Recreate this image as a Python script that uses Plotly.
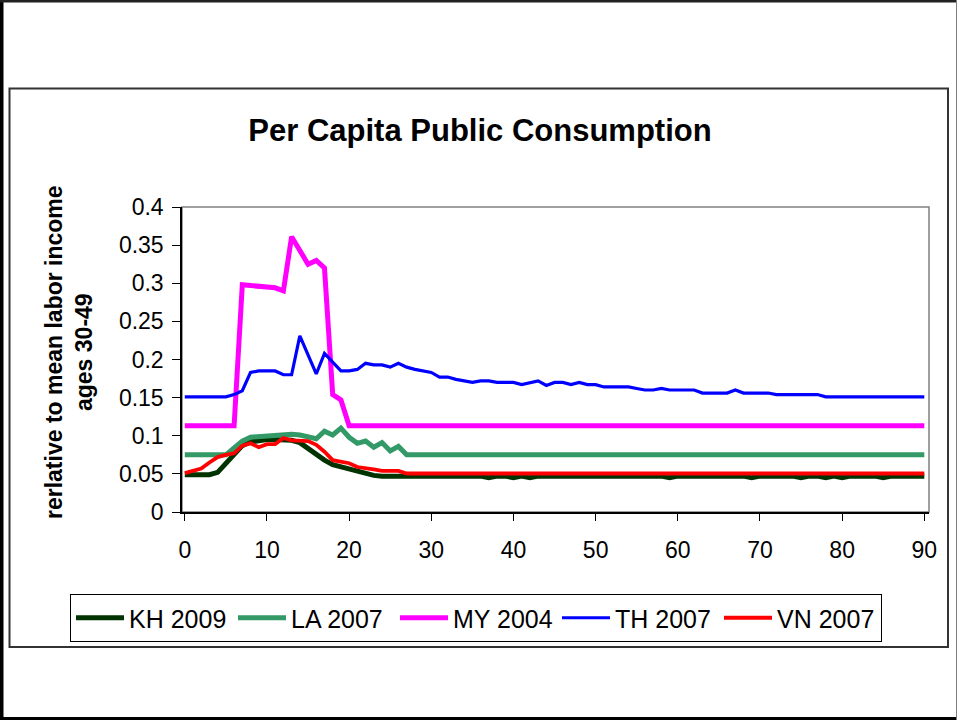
import plotly.graph_objects as go

ages = list(range(91))

kh_2009 = [
    0.049, 0.049, 0.049, 0.049, 0.052, 0.063, 0.076, 0.087, 0.092, 0.094,
    0.095, 0.095, 0.095, 0.094, 0.091, 0.083, 0.075, 0.068, 0.062, 0.059,
    0.056, 0.054, 0.051, 0.048, 0.047, 0.047, 0.047, 0.047, 0.047, 0.047,
    0.047, 0.047, 0.047, 0.047, 0.047, 0.047, 0.047, 0.045, 0.047, 0.047,
    0.045, 0.047, 0.045, 0.047, 0.047, 0.047, 0.047, 0.047, 0.047, 0.047,
    0.047, 0.047, 0.047, 0.047, 0.047, 0.047, 0.047, 0.047, 0.047, 0.045,
    0.047, 0.047, 0.047, 0.047, 0.047, 0.047, 0.047, 0.047, 0.047, 0.045,
    0.047, 0.047, 0.047, 0.047, 0.047, 0.045, 0.047, 0.047, 0.045, 0.047,
    0.045, 0.047, 0.047, 0.047, 0.047, 0.045, 0.047, 0.047, 0.047, 0.047,
    0.047,
]

la_2007 = [
    0.075, 0.075, 0.075, 0.075, 0.075, 0.075, 0.084, 0.093, 0.098, 0.099,
    0.100, 0.101, 0.102, 0.102, 0.101, 0.098, 0.096, 0.106, 0.101, 0.110,
    0.098, 0.090, 0.093, 0.085, 0.091, 0.080, 0.086, 0.075, 0.075, 0.075,
    0.075, 0.075, 0.075, 0.075, 0.075, 0.075, 0.075, 0.075, 0.075, 0.075,
    0.075, 0.075, 0.075, 0.075, 0.075, 0.075, 0.075, 0.075, 0.075, 0.075,
    0.075, 0.075, 0.075, 0.075, 0.075, 0.075, 0.075, 0.075, 0.075, 0.075,
    0.075, 0.075, 0.075, 0.075, 0.075, 0.075, 0.075, 0.075, 0.075, 0.075,
    0.075, 0.075, 0.075, 0.075, 0.075, 0.075, 0.075, 0.075, 0.075, 0.075,
    0.075, 0.075, 0.075, 0.075, 0.075, 0.075, 0.075, 0.075, 0.075, 0.075,
    0.075,
]

my_2004 = [
    0.113, 0.113, 0.113, 0.113, 0.113, 0.113, 0.113, 0.298, 0.297, 0.295,
    0.295, 0.294, 0.290, 0.361, 0.343, 0.325, 0.330, 0.320, 0.154, 0.147,
    0.113, 0.113, 0.113, 0.113, 0.113, 0.113, 0.113, 0.113, 0.113, 0.113,
    0.113, 0.113, 0.113, 0.113, 0.113, 0.113, 0.113, 0.113, 0.113, 0.113,
    0.113, 0.113, 0.113, 0.113, 0.113, 0.113, 0.113, 0.113, 0.113, 0.113,
    0.113, 0.113, 0.113, 0.113, 0.113, 0.113, 0.113, 0.113, 0.113, 0.113,
    0.113, 0.113, 0.113, 0.113, 0.113, 0.113, 0.113, 0.113, 0.113, 0.113,
    0.113, 0.113, 0.113, 0.113, 0.113, 0.113, 0.113, 0.113, 0.113, 0.113,
    0.113, 0.113, 0.113, 0.113, 0.113, 0.113, 0.113, 0.113, 0.113, 0.113,
    0.113,
]

th_2007 = [
    0.151, 0.151, 0.151, 0.151, 0.151, 0.151, 0.154, 0.159, 0.183, 0.185,
    0.185, 0.185, 0.180, 0.180, 0.231, 0.206, 0.181, 0.208, 0.196, 0.185,
    0.185, 0.187, 0.195, 0.193, 0.193, 0.190, 0.195, 0.190, 0.187, 0.185,
    0.183, 0.177, 0.177, 0.174, 0.172, 0.170, 0.172, 0.172, 0.170, 0.170,
    0.170, 0.167, 0.170, 0.172, 0.166, 0.170, 0.170, 0.167, 0.170, 0.167,
    0.167, 0.164, 0.164, 0.164, 0.164, 0.162, 0.160, 0.160, 0.162, 0.160,
    0.160, 0.160, 0.160, 0.156, 0.156, 0.156, 0.156, 0.160, 0.156, 0.156,
    0.156, 0.156, 0.154, 0.154, 0.154, 0.154, 0.154, 0.154, 0.151, 0.151,
    0.151, 0.151, 0.151, 0.151, 0.151, 0.151, 0.151, 0.151, 0.151, 0.151,
    0.151,
]

vn_2007 = [
    0.051, 0.054, 0.057, 0.065, 0.072, 0.075, 0.077, 0.087, 0.090, 0.085,
    0.089, 0.089, 0.097, 0.094, 0.093, 0.093, 0.088, 0.079, 0.068, 0.066,
    0.064, 0.059, 0.058, 0.056, 0.054, 0.054, 0.054, 0.0505, 0.0505, 0.0505,
    0.0505, 0.0505, 0.0505, 0.0505, 0.0505, 0.0505, 0.0505, 0.0505, 0.0505, 0.0505,
    0.0505, 0.0505, 0.0505, 0.0505, 0.0505, 0.0505, 0.0505, 0.0505, 0.0505, 0.0505,
    0.0505, 0.0505, 0.0505, 0.0505, 0.0505, 0.0505, 0.0505, 0.0505, 0.0505, 0.0505,
    0.0505, 0.0505, 0.0505, 0.0505, 0.0505, 0.0505, 0.0505, 0.0505, 0.0505, 0.0505,
    0.0505, 0.0505, 0.0505, 0.0505, 0.0505, 0.0505, 0.0505, 0.0505, 0.0505, 0.0505,
    0.0505, 0.0505, 0.0505, 0.0505, 0.0505, 0.0505, 0.0505, 0.0505, 0.0505, 0.0505,
    0.0505,
]

series_names = ["KH 2009", "LA 2007", "MY 2004", "TH 2007", "VN 2007"]
series_values = [kh_2009, la_2007, my_2004, th_2007, vn_2007]
series_colors = ["#003300", "#339966", "#FF00FF", "#0000FF", "#FF0000"]
series_widths = [5, 5, 5, 3.2, 3.8]

y_tickvals = [0, 0.05, 0.1, 0.15, 0.2, 0.25, 0.3, 0.35, 0.4]
y_ticktext = ["0", "0.05", "0.1", "0.15", "0.2", "0.25", "0.3", "0.35", "0.4"]
x_tickvals = [0, 10, 20, 30, 40, 50, 60, 70, 80, 90]

FONT = "Liberation Sans, Arial, sans-serif"
W, H = 957, 720
ML, MR, MT, MB = 182, 28, 207, 208
PW = W - ML - MR
PH = H - MT - MB


def px(x):
    return (x - ML) / PW


def py(y):
    return (H - MB - y) / PH


fig = go.Figure()
for name, vals, col, lw in zip(series_names, series_values, series_colors, series_widths):
    fig.add_trace(go.Scatter(
        x=ages, y=vals, mode="lines", name=name,
        line=dict(color=col, width=lw),
        hoverinfo="skip",
    ))

shapes = [
    # outer frame
    dict(type="line", xref="paper", yref="paper", x0=px(0), x1=px(0), y0=py(0), y1=py(H),
         line=dict(color="black", width=7)),
    dict(type="line", xref="paper", yref="paper", x0=px(0), x1=px(W), y0=py(0), y1=py(0),
         line=dict(color="#222222", width=5)),
    dict(type="line", xref="paper", yref="paper", x0=px(0), x1=px(W), y0=py(H), y1=py(H),
         line=dict(color="black", width=6)),
    dict(type="line", xref="paper", yref="paper", x0=px(W), x1=px(W), y0=py(0), y1=py(H),
         line=dict(color="#808080", width=2)),
    # chart box
    dict(type="rect", xref="paper", yref="paper", x0=px(9.5), x1=px(948), y0=py(647), y1=py(88.5),
         line=dict(color="#333333", width=2)),
    # plot area border
    dict(type="rect", xref="paper", yref="paper", x0=0, x1=1, y0=0, y1=1,
         line=dict(color="#808080", width=1.5), layer="below"),
]

fig.update_layout(
    width=W, height=H,
    margin=dict(l=ML, r=MR, t=MT, b=MB),
    paper_bgcolor="white", plot_bgcolor="white",
    font=dict(family=FONT, color="black", size=23),
    title=dict(text="<b>Per Capita Public Consumption</b>", x=480 / W, xref="container",
               xanchor="center", y=1 - 130 / H, yref="container", yanchor="middle",
               font=dict(size=31, family=FONT, color="black")),
    showlegend=True,
    legend=dict(orientation="h", x=px(70), xanchor="left", y=py(594), yanchor="top",
                bordercolor="black", borderwidth=1, bgcolor="white",
                font=dict(size=25, family=FONT, color="black"),
                itemwidth=48, entrywidth=99, entrywidthmode="pixels"),
    xaxis=dict(range=[-0.34, 90.57], tickvals=x_tickvals, ticks="outside", ticklen=7,
               tickcolor="black", showline=True, linecolor="black", linewidth=1.5,
               showgrid=False, zeroline=False, ticklabelstandoff=10,
               tickfont=dict(size=23, family=FONT)),
    yaxis=dict(range=[0, 0.4], tickvals=y_tickvals, ticktext=y_ticktext, ticks="outside",
               ticklen=8, tickcolor="black", showline=True, linecolor="black", linewidth=1.5,
               showgrid=False, zeroline=False, ticklabelstandoff=4,
               tickfont=dict(size=23, family=FONT)),
    shapes=shapes,
    annotations=[dict(
        text="<b>rerlative to mean labor income<br>ages 30-49</b>",
        xref="paper", yref="paper", x=px(69), y=py(352), xanchor="center", yanchor="middle",
        textangle=-90, showarrow=False, font=dict(size=23, family=FONT, color="black"),
    )],
)

fig.write_html("out.html", config={"displayModeBar": False},
               post_script="document.body.style.margin='0px';")
